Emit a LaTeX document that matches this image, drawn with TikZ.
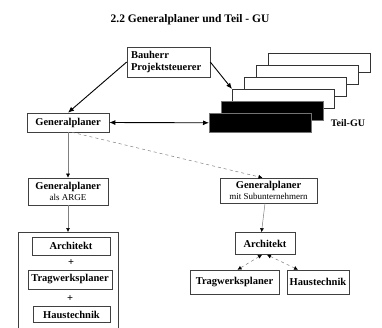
\documentclass[tikz,border=0pt]{standalone}
\usepackage{fontspec}
\setmainfont{Liberation Serif}
\usetikzlibrary{arrows.meta}
\begin{document}
\begin{tikzpicture}[x=1pt,y=-1pt,
 box/.style={draw=black!75, line width=0.6pt, fill=white, inner sep=0pt, font=\fontsize{10.5}{12}\selectfont\bfseries, align=center},
 stackw/.style={draw=black!80, line width=0.6pt, fill=white, minimum width=102pt, minimum height=19pt, inner sep=0pt, anchor=north west},
 stackb/.style={stackw, fill=black, draw=black!55},
 mainarr/.style={draw=black, line width=0.9pt, -{Latex[length=6pt,width=5pt]}},
 bothmain/.style={draw=black, line width=0.9pt, {Latex[length=6pt,width=5pt]}-{Latex[length=6pt,width=5pt]}},
 thinarr/.style={draw=black!50, line width=0.5pt, -{Latex[length=4pt,width=4pt,color=black]}},
 dasharr/.style={draw=black!50, line width=0.5pt, dashed, -{Latex[length=4pt,width=4pt,color=black]}},
 dashboth/.style={draw=black!50, line width=0.5pt, dashed, {Latex[length=4pt,width=4pt,color=black]}-{Latex[length=4pt,width=4pt,color=black]}},
 plain/.style={font=\fontsize{10.5}{12}\selectfont\bfseries, inner sep=0pt}
]
\clip (0,0) rectangle (382,327);
\fill[white] (0,0) rectangle (382,327);

\node[plain, font=\fontsize{11.5}{13}\selectfont\bfseries] (title) at (190,20) {2.2 Generalplaner und Teil - GU};

% Bauherr
\node[box, minimum width=83pt, minimum height=30pt, align=left, text width=75pt] (bau) at (168.5,62) {Bauherr\\Projektsteuerer};

% Generalplaner
\node[box, minimum width=82pt, minimum height=19pt] (gp) at (68,122.5) {Generalplaner};

% stacked Teil-GU boxes
\node[stackw] (t1) at (268,53) {};
\node[stackw] (t2) at (256,65) {};
\node[stackw] (t3) at (244,77) {};
\node[stackw] (t4) at (232,89) {};
\node[stackb] (t5) at (221,101) {};
\node[stackb] (t6) at (209,113) {};
\node[plain, font=\fontsize{10}{12}\selectfont\bfseries] (tgu) at (348,123) {Teil-GU};

% ARGE / Sub
\node[box, minimum width=80pt, minimum height=27pt] (arge) at (68,191.5) {Generalplaner\\[-1pt]{\fontsize{9}{10}\selectfont\mdseries als ARGE}};
\node[box, minimum width=97pt, minimum height=25pt] (sub) at (268.5,190.5) {Generalplaner\\[-1pt]{\fontsize{9}{10}\selectfont\mdseries mit Subunternehmern}};

% left group
\node[draw=black!75, line width=0.6pt, minimum width=100pt, minimum height=110pt, anchor=north, inner sep=0pt] (grp) at (68,232) {};
\node[box, minimum width=78pt, minimum height=18pt] (a1) at (71,246) {Architekt};
\node[plain] (p1) at (71,263) {+};
\node[box, minimum width=84pt, minimum height=19pt] (tr1) at (70,279.5) {Tragwerksplaner};
\node[plain] (p2) at (70,299) {+};
\node[box, minimum width=77pt, minimum height=16pt] (h1) at (71.5,314.5) {Haustechnik};

% right group
\node[box, minimum width=60pt, minimum height=22pt] (a2) at (265,243.5) {Architekt};
\node[box, minimum width=89pt, minimum height=24pt] (tr2) at (234.5,282) {Tragwerksplaner};
\node[box, minimum width=62pt, minimum height=24pt] (h2) at (318,282) {Haustechnik};

% connectors
\draw[mainarr] (bau.west) -- (gp.north);
\draw[mainarr] (bau.east) -- (t4.north west);
\draw[bothmain] (gp.east) -- (t6.west);
\draw[thinarr] (gp.south) -- (arge.north);
\draw[dasharr] ([xshift=4pt]gp.south) -- ([xshift=-6pt]sub.north);
\draw[thinarr] (arge.south) -- (grp.north);
\draw[thinarr] ([xshift=-3.5pt]sub.south) -- ([xshift=-3.5pt]a2.north);
\draw[dashboth] ([xshift=-3pt]a2.south) -- ([xshift=3pt]tr2.north);
\draw[dashboth] ([xshift=2pt]a2.south) -- ([xshift=-20pt]h2.north);
\end{tikzpicture}
\end{document}
